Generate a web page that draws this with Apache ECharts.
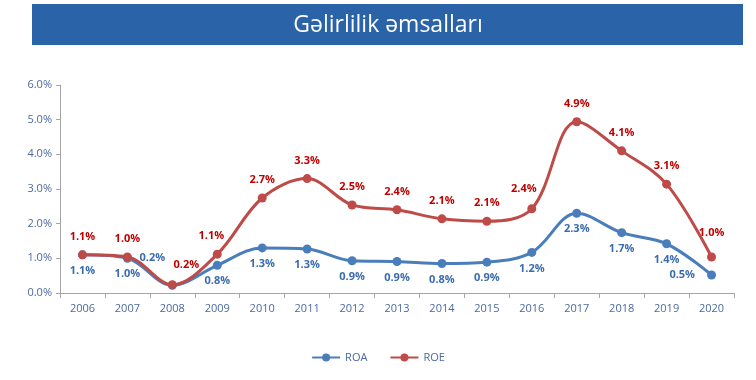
<!DOCTYPE html>
<html><head><meta charset="utf-8">
<script src="https://cdn.jsdelivr.net/npm/echarts@6/dist/echarts.min.js"></script>
<style>html,body{margin:0;padding:0;background:#fff}#c{width:756px;height:380px}</style>
</head><body><div id="c"></div>
<script>
const titleText = 'Gəlirlilik əmsalları';
const years = ['2006','2007','2008','2009','2010','2011','2012','2013','2014','2015','2016','2017','2018','2019','2020'];
const roa = [1.1, 1.0, 0.22, 0.8, 1.3, 1.27, 0.93, 0.91, 0.85, 0.89, 1.17, 2.3, 1.74, 1.42, 0.52];
const roe = [1.1, 1.04, 0.24, 1.12, 2.74, 3.3, 2.54, 2.4, 2.14, 2.07, 2.43, 4.94, 4.1, 3.14, 1.04];
const yTicks = [0, 1, 2, 3, 4, 5, 6];

const font = 'Open Sans, Liberation Sans, sans-serif';
const roaLabelOverrides = {
  2: {offset: [-20, -44]},
  14: {position: 'left', distance: 12}
};
const roeLabelOverrides = {
  2: {offset: [14, -2]},
  3: {offset: [-6, 0]},
  10: {offset: [-8, -2]},
  14: {offset: [0, -6]}
};

function mkData(vals, overrides) {
  return vals.map((v, i) => {
    const item = {value: v};
    if (overrides[i]) item.label = overrides[i];
    return item;
  });
}
const chart = echarts.init(document.getElementById('c'));
chart.setOption({
  animation: false,
  graphic: [
    {type: 'rect', shape: {x: 32, y: 4, width: 711, height: 41}, style: {fill: '#2B63A8'}},
    {type: 'text', x: 388, y: 25, style: {text: titleText, fill: '#fff', font: '23px ' + font, textAlign: 'center', textVerticalAlign: 'middle'}}
  ],
  grid: {left: 60, right: 22, top: 85, bottom: 87},
  legend: {
    bottom: 12, left: 'center', itemWidth: 28, itemHeight: 10, itemGap: 22,
    textStyle: {color: '#4a6aa0', fontSize: 11, fontFamily: font},
    data: ['ROA', 'ROE']
  },
  xAxis: {
    type: 'category', data: years, boundaryGap: true,
    axisLine: {lineStyle: {color: '#a6a6a6'}},
    axisTick: {show: true, length: 5, lineStyle: {color: '#a6a6a6'}},
    axisLabel: {color: '#4a6aa0', fontSize: 11, fontFamily: font, margin: 10}
  },
  yAxis: {
    type: 'value', min: 0, max: 6, interval: 1,
    axisLine: {show: true, lineStyle: {color: '#a6a6a6'}},
    axisTick: {show: true, length: 4, lineStyle: {color: '#a6a6a6'}},
    splitLine: {show: false},
    axisLabel: {color: '#4a6aa0', fontSize: 11, fontFamily: font, margin: 8,
      formatter: v => yTicks.includes(v) ? v.toFixed(1) + '%' : ''}
  },
  series: [
    {
      name: 'ROA', type: 'line', smooth: 0.35, data: mkData(roa, roaLabelOverrides),
      symbol: 'circle', symbolSize: 9,
      lineStyle: {width: 3, color: '#4A7EBB'}, itemStyle: {color: '#4A7EBB'},
      label: {show: true, position: 'bottom', distance: 6, color: '#3A6BAF', fontWeight: 'bold', fontSize: 11, fontFamily: font,
        formatter: p => p.value.toFixed(1) + '%'},
      z: 3
    },
    {
      name: 'ROE', type: 'line', smooth: 0.35, data: mkData(roe, roeLabelOverrides),
      symbol: 'circle', symbolSize: 9,
      lineStyle: {width: 3, color: '#BE4B48'}, itemStyle: {color: '#BE4B48'},
      label: {show: true, position: 'top', distance: 8, color: '#C00000', fontWeight: 'bold', fontSize: 11, fontFamily: font,
        formatter: p => p.value.toFixed(1) + '%'},
      z: 4
    }
  ]
});
</script></body></html>
